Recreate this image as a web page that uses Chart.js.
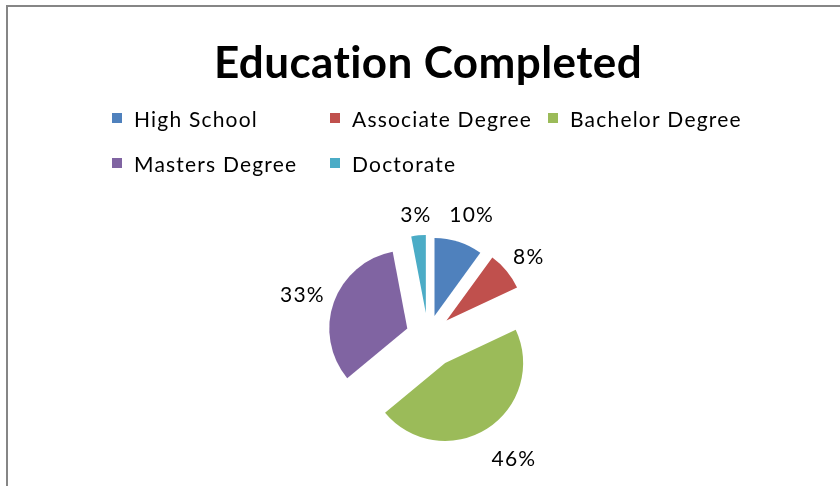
<!DOCTYPE html>
<html>
<head>
<meta charset="utf-8">
<script src="https://cdn.jsdelivr.net/npm/chart.js@4.4.1/dist/chart.umd.min.js"></script>
<style>
  html, body { margin: 0; padding: 0; background: #fff; }
  canvas { display: block; }
</style>
</head>
<body>
<canvas id="eduChart" width="840" height="486"></canvas>
<script>
// data
const categories = ['High School', 'Associate Degree', 'Bachelor Degree', 'Masters Degree', 'Doctorate'];
const shares = [10, 8, 46, 33, 3];
const sliceColors = ['#4F81BD', '#C0504D', '#9BBB59', '#8064A2', '#4BACC6'];

// how far each slice is pulled out of the pie (px), and label gap past the rim
const explode = [21, 24, 32, 22, 23];
const labelGap = [20, 13, 28, 11, 12];

const FONT = 'Lato, "Open Sans", sans-serif';
const TEXT_SPACING = '1.2px';

// frame like the excel chart area
const framePlugin = {
    id: 'frame',
    beforeDraw(chart) {
        const ctx = chart.ctx;
        ctx.save();
        ctx.fillStyle = '#fff';
        ctx.fillRect(0, 0, chart.width, chart.height);
        ctx.strokeStyle = '#868686';
        ctx.lineWidth = 2;
        ctx.beginPath();
        ctx.moveTo(7, chart.height);
        ctx.lineTo(7, 6);
        ctx.lineTo(chart.width, 6);
        ctx.stroke();
        ctx.restore();
        // a little tracking for the title (also stops the "ti" ligature)
        ctx.letterSpacing = '0.4px';
    }
};

// draws slices pushed out along their mid angle, then the % labels
const explodedPie = {
    id: 'explodedPie',
    beforeDatasetDraw(chart, args) {
        const ctx = chart.ctx;
        const arcs = args.meta.data;
        arcs.forEach((arc, i) => {
            const mid = (arc.startAngle + arc.endAngle) / 2;
            const d = explode[i] || 0;
            ctx.save();
            ctx.translate(Math.cos(mid) * d, Math.sin(mid) * d);
            arc.draw(ctx);
            ctx.restore();
        });
        return false;
    },
    afterDatasetsDraw(chart) {
        const ctx = chart.ctx;
        const meta = chart.getDatasetMeta(0);
        const total = shares.reduce((a, b) => a + b, 0);
        ctx.save();
        ctx.font = '21px ' + FONT;
        ctx.letterSpacing = TEXT_SPACING;
        ctx.fillStyle = '#000';
        ctx.textAlign = 'center';
        ctx.textBaseline = 'middle';
        meta.data.forEach((arc, i) => {
            const mid = (arc.startAngle + arc.endAngle) / 2;
            const ux = Math.cos(mid), uy = Math.sin(mid);
            const txt = Math.round(shares[i] / total * 100) + '%';
            const w = ctx.measureText(txt).width;
            const h = 16;
            const r = arc.outerRadius + (explode[i] || 0) + labelGap[i];
            const x = arc.x + ux * r + ux * w / 2;
            const y = arc.y + uy * r + uy * h / 2;
            ctx.fillText(txt, x, y);
        });
        ctx.restore();
    }
};

// legend in fixed columns, two rows
const gridLegend = {
    id: 'gridLegend',
    afterDraw(chart) {
        const ctx = chart.ctx;
        const left = 112, colW = 218, perRow = 3;
        const rowY = [119, 164];
        ctx.save();
        ctx.font = '21px ' + FONT;
        ctx.letterSpacing = TEXT_SPACING;
        ctx.textBaseline = 'middle';
        ctx.textAlign = 'left';
        categories.forEach((label, i) => {
            const x = left + (i % perRow) * colW;
            const y = rowY[Math.floor(i / perRow)];
            ctx.fillStyle = sliceColors[i];
            ctx.fillRect(x, y - 6, 10, 10);
            ctx.fillStyle = '#000';
            ctx.fillText(label, x + 22, y + 1);
        });
        ctx.restore();
    }
};

new Chart(document.getElementById('eduChart'), {
    type: 'pie',
    data: {
        labels: categories,
        datasets: [{
            data: shares,
            backgroundColor: sliceColors,
            borderWidth: 0
        }]
    },
    options: {
        responsive: false,
        devicePixelRatio: 1,
        animation: false,
        radius: 78,
        layout: {
            padding: { left: 16, right: 0, top: 0, bottom: 30 }
        },
        plugins: {
            legend: { display: false },
            tooltip: { enabled: false },
            title: {
                display: true,
                text: 'Education Completed',
                color: '#000',
                font: { family: FONT, size: 44, weight: 'bold', lineHeight: 1.2 },
                padding: { top: 37, bottom: 126 }
            }
        }
    },
    plugins: [framePlugin, explodedPie, gridLegend]
});
</script>
</body>
</html>
